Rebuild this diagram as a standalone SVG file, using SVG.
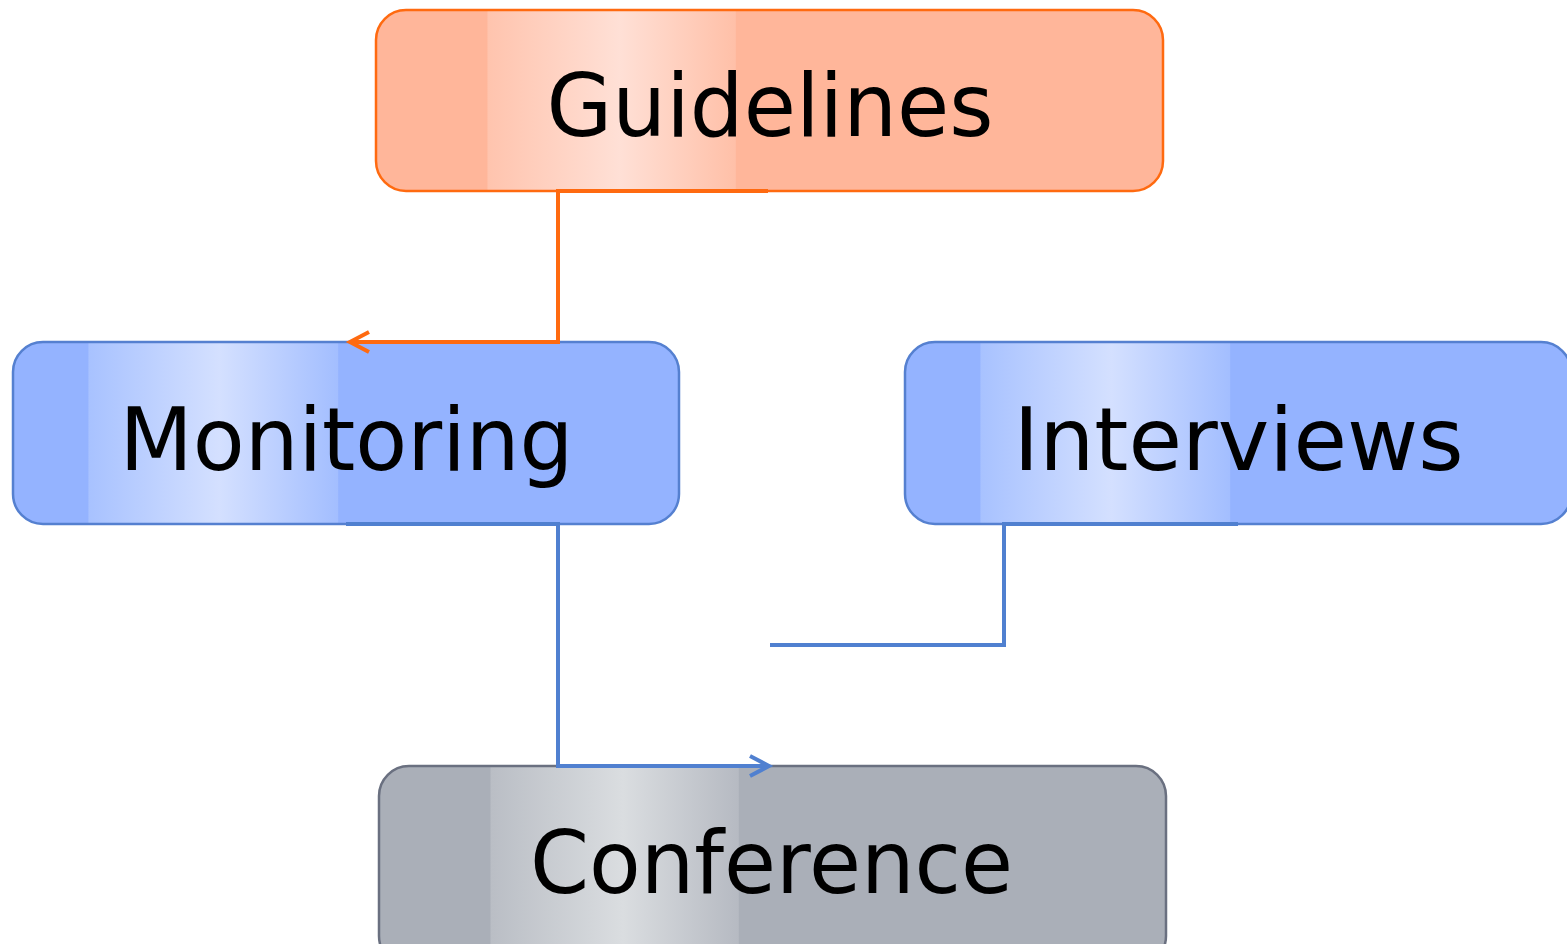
<svg xmlns="http://www.w3.org/2000/svg" width="1567" height="944" viewBox="0 0 1567 944">
<defs>
<linearGradient id="gO" gradientUnits="userSpaceOnUse" x1="376" y1="0" x2="1163" y2="0">
<stop offset="0" stop-color="#FFB69A"/>
<stop offset="0.1410" stop-color="#FFB69A"/>
<stop offset="0.1423" stop-color="#FFC4AE"/>
<stop offset="0.31" stop-color="#FFE0D6"/>
<stop offset="0.4565" stop-color="#FFC0A8"/>
<stop offset="0.4580" stop-color="#FFB69A"/>
<stop offset="1" stop-color="#FFB69A"/>
</linearGradient>
<linearGradient id="gB1" gradientUnits="userSpaceOnUse" x1="13" y1="0" x2="679" y2="0">
<stop offset="0" stop-color="#94B3FF"/>
<stop offset="0.1125" stop-color="#94B3FF"/>
<stop offset="0.1140" stop-color="#A8C2FF"/>
<stop offset="0.31" stop-color="#D4E0FF"/>
<stop offset="0.4875" stop-color="#A3BEFF"/>
<stop offset="0.4890" stop-color="#94B3FF"/>
<stop offset="1" stop-color="#94B3FF"/>
</linearGradient>
<linearGradient id="gB2" gradientUnits="userSpaceOnUse" x1="905" y1="0" x2="1571" y2="0">
<stop offset="0" stop-color="#94B3FF"/>
<stop offset="0.1125" stop-color="#94B3FF"/>
<stop offset="0.1140" stop-color="#A8C2FF"/>
<stop offset="0.31" stop-color="#D4E0FF"/>
<stop offset="0.4875" stop-color="#A3BEFF"/>
<stop offset="0.4890" stop-color="#94B3FF"/>
<stop offset="1" stop-color="#94B3FF"/>
</linearGradient>
<linearGradient id="gG" gradientUnits="userSpaceOnUse" x1="379" y1="0" x2="1166" y2="0">
<stop offset="0" stop-color="#AAAFB8"/>
<stop offset="0.1410" stop-color="#AAAFB8"/>
<stop offset="0.1423" stop-color="#BABEC5"/>
<stop offset="0.31" stop-color="#DADDE0"/>
<stop offset="0.4565" stop-color="#B6BAC2"/>
<stop offset="0.4580" stop-color="#AAAFB8"/>
<stop offset="1" stop-color="#AAAFB8"/>
</linearGradient>
</defs>
<style>
.lbl{font-family:"DejaVu Sans",Verdana,sans-serif;font-size:88px;fill:#000;text-anchor:middle}
.box{stroke-width:2.5}
.conn{fill:none;stroke-width:4;stroke-linejoin:miter}
.o{stroke:#FF6A10}
.b{stroke:#5080D0}
</style>
<g id="guidelines">
<rect class="box" x="376" y="10" width="787" height="181" rx="30" fill="url(#gO)" stroke="#FF6A10"/>
<text class="lbl" x="770" y="136" textLength="447" lengthAdjust="spacingAndGlyphs">Guidelines</text>
</g>
<g id="monitoring">
<rect class="box" x="13" y="342" width="666" height="182" rx="30" fill="url(#gB1)" stroke="#5580D0"/>
<text class="lbl" x="346.5" y="470" textLength="454" lengthAdjust="spacingAndGlyphs">Monitoring</text>
</g>
<g id="interviews">
<rect class="box" x="905" y="342" width="666" height="182" rx="30" fill="url(#gB2)" stroke="#5580D0"/>
<text class="lbl" x="1238.5" y="470" textLength="450" lengthAdjust="spacingAndGlyphs">Interviews</text>
</g>
<g id="conference">
<rect class="box" x="379" y="766" width="787" height="200" rx="30" fill="url(#gG)" stroke="#6A7080"/>
<text class="lbl" x="771.5" y="893" textLength="483" lengthAdjust="spacingAndGlyphs">Conference</text>
</g>
<g id="connectors">
<polyline class="conn o" points="768,191 558,191 558,342 350,342"/>
<polyline class="conn o" points="369,332 350,342 369,352"/>
<polyline class="conn b" points="346,524 558,524 558,766 768,766"/>
<polyline class="conn b" points="750,756 769,766 750,776"/>
<polyline class="conn b" points="1238,524 1004,524 1004,645 770,645"/>
</g>
</svg>
